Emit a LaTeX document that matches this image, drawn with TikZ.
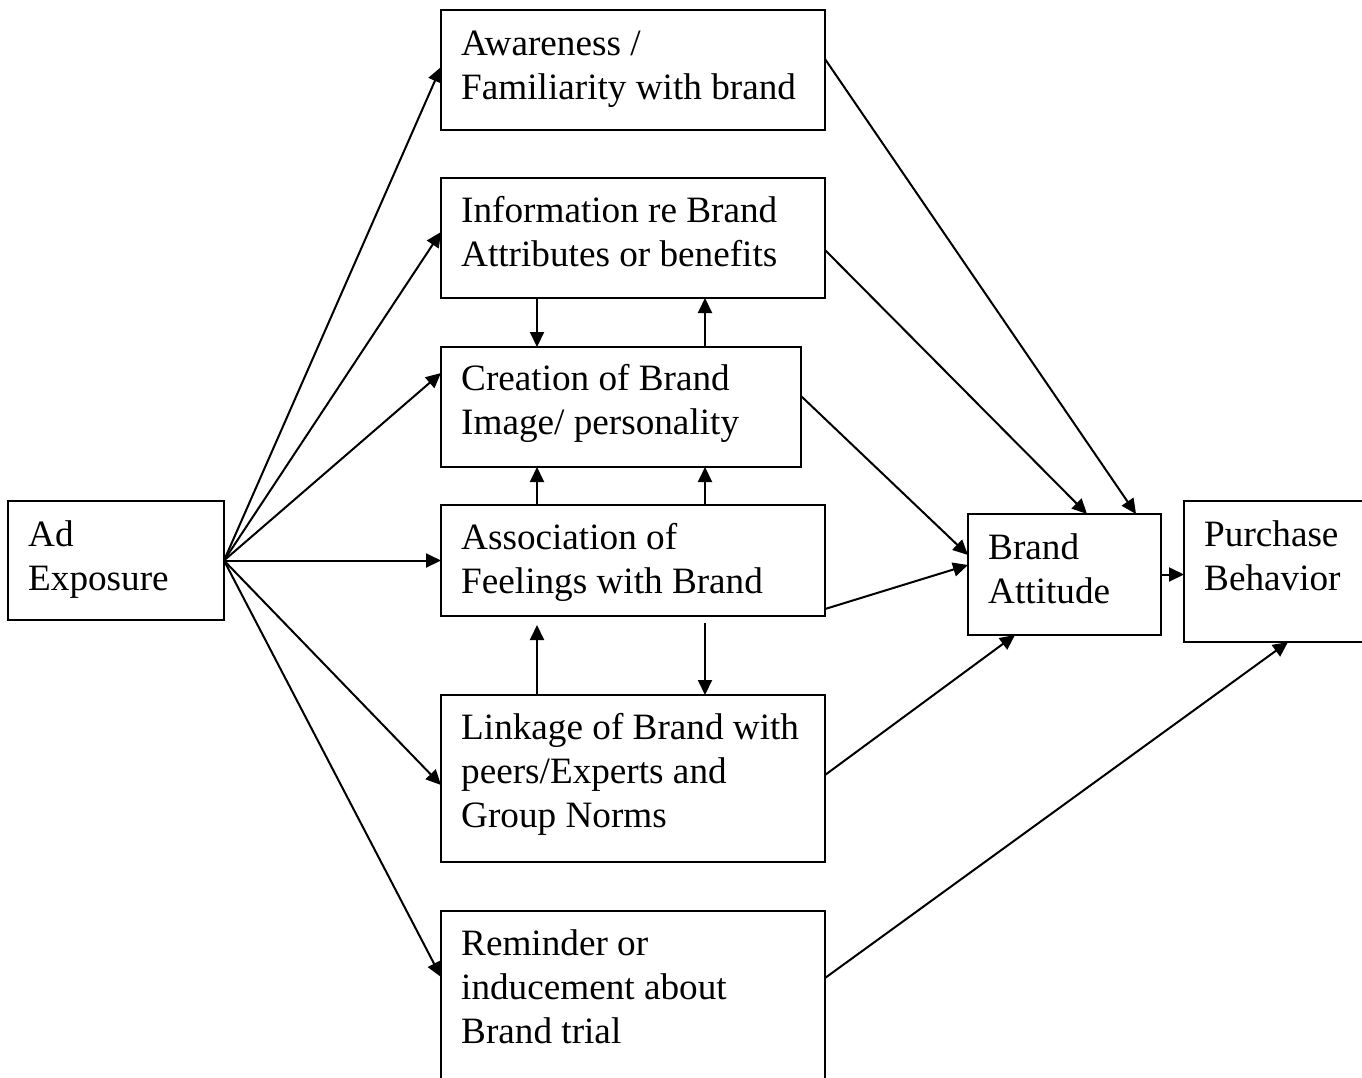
\documentclass[tikz,border=0pt]{standalone}
\usepackage{fontspec}
\setmainfont{Liberation Serif}
\usetikzlibrary{arrows.meta,calc}
\begin{document}
\begin{tikzpicture}[x=1pt,y=-1pt,
  box/.style={draw,line width=2pt,rectangle,anchor=north west,inner sep=0pt,outer sep=0pt},
  txt/.style={anchor=north west,inner sep=0pt,align=left,font=\fontsize{37.2}{44}\selectfont},
  arr/.style={line width=2pt,-{Triangle[length=15pt,width=14pt]}}]
\clip (0,0) rectangle (1362,1077);
\fill[white] (0,0) rectangle (1362,1077);
% boxes
\node[box,minimum width=216pt,minimum height=119pt] (ad) at (8,501) {};
\node[box,minimum width=384pt,minimum height=120pt] (aw) at (441,10) {};
\node[box,minimum width=384pt,minimum height=120pt] (info) at (441,178) {};
\node[box,minimum width=360pt,minimum height=120pt] (cre) at (441,347) {};
\node[box,minimum width=384pt,minimum height=111pt] (asso) at (441,505) {};
\node[box,minimum width=384pt,minimum height=167pt] (link) at (441,695) {};
\node[box,minimum width=384pt,minimum height=190pt] (rem) at (441,911) {};
\node[box,minimum width=193pt,minimum height=121pt] (ba) at (968,514) {};
\node[box,minimum width=200pt,minimum height=141pt] (pb) at (1184,501) {};
% texts
\node[txt] (adt) at (28,514) {\rule{0pt}{32pt}Ad\\Exposure};
\node[txt] (awt) at (461,23) {\rule{0pt}{32pt}Awareness /\\Familiarity with brand};
\node[txt] (infot) at (461,190) {\rule{0pt}{32pt}Information re Brand\\Attributes or benefits};
\node[txt] (cret) at (461,358) {\rule{0pt}{32pt}Creation of Brand\\Image/ personality};
\node[txt] (assot) at (461,517) {\rule{0pt}{32pt}Association of\\Feelings with Brand};
\node[txt] (linkt) at (461,707) {\rule{0pt}{32pt}Linkage of Brand with\\peers/Experts and\\Group Norms};
\node[txt] (remt) at (461,923) {\rule{0pt}{32pt}Reminder or\\inducement about\\Brand trial};
\node[txt] (bat) at (988,527) {\rule{0pt}{32pt}Brand\\Attitude};
\node[txt] (pbt) at (1204,514) {\rule{0pt}{32pt}Purchase\\Behavior};
% helper x positions
\coordinate (xl) at (537,0);
\coordinate (xr) at (705,0);
% arrows from Ad Exposure
\draw[arr] (ad.east) -- ($(aw.north west)+(0,57)$);
\draw[arr] (ad.east) -- ($(info.north west)+(0,54)$);
\draw[arr] (ad.east) -- ($(cre.north west)+(0,26)$);
\draw[arr] (ad.east) -- (ad.east -| asso.west);
\draw[arr] (ad.east) -- ($(link.north west)+(0,90)$);
\draw[arr] (ad.east) -- ($(rem.north west)+(0,66)$);
% vertical arrows
\draw[arr] (info.south -| xl) -- (cre.north -| xl);
\draw[arr] (cre.north -| xr) -- (info.south -| xr);
\draw[arr] (asso.north -| xl) -- (cre.south -| xl);
\draw[arr] (asso.north -| xr) -- (cre.south -| xr);
\draw[arr] (link.north -| xl) -- ($(asso.south -| xl)+(0,9)$);
\draw[arr] ($(asso.south -| xr)+(0,7)$) -- (link.north -| xr);
% to Brand Attitude
\draw[arr] ($(aw.north east)+(0,49)$) -- ($(ba.north west)+(168,0)$);
\draw[arr] ($(info.north east)+(0,72)$) -- ($(ba.north west)+(119,0)$);
\draw[arr] ($(cre.north east)+(0,49)$) -- ($(ba.north west)+(0,41)$);
\draw[arr] ($(asso.north east)+(0,104)$) -- ($(ba.north west)+(0,51)$);
\draw[arr] ($(link.north east)+(0,80)$) -- ($(ba.south west)+(47,0)$);
% to Purchase Behavior
\draw[arr] (ba.east) -- (ba.east -| pb.west);
\draw[arr] ($(rem.north east)+(0,67)$) -- ($(pb.south west)+(104,0)$);
\end{tikzpicture}
\end{document}
